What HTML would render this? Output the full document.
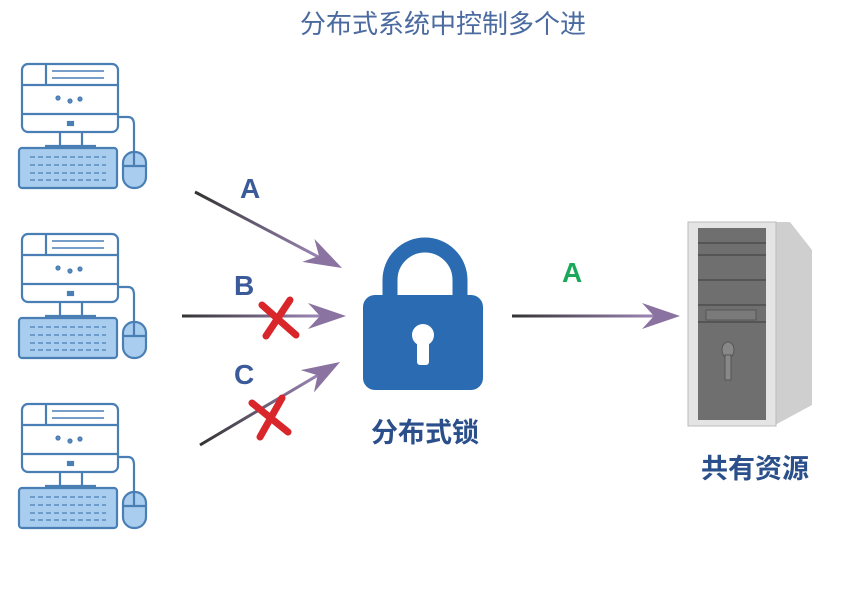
<!DOCTYPE html><html><head><style>body{margin:0;background:#fff}svg{display:block}</style></head><body>
<svg width="866" height="593" viewBox="0 0 866 593" xmlns="http://www.w3.org/2000/svg">
<defs>
<linearGradient id="g1" gradientUnits="userSpaceOnUse" x1="195" y1="192" x2="330" y2="263"><stop offset="0" stop-color="#333"/><stop offset="1" stop-color="#a58cc0"/></linearGradient>
<linearGradient id="g2" gradientUnits="userSpaceOnUse" x1="182" y1="316" x2="330" y2="316"><stop offset="0" stop-color="#333"/><stop offset="1" stop-color="#a58cc0"/></linearGradient>
<linearGradient id="g3" gradientUnits="userSpaceOnUse" x1="200" y1="445" x2="330" y2="368"><stop offset="0" stop-color="#333"/><stop offset="1" stop-color="#a58cc0"/></linearGradient>
<linearGradient id="g4" gradientUnits="userSpaceOnUse" x1="512" y1="316" x2="665" y2="316"><stop offset="0" stop-color="#333"/><stop offset="1" stop-color="#a58cc0"/></linearGradient>
<g id="pc" stroke="#4a7fb5" stroke-width="2.2" fill="none">
<rect x="22" y="64" width="96" height="68" rx="6" fill="#fff"/>
<line x1="22" y1="85" x2="118" y2="85"/><line x1="46" y1="64" x2="46" y2="85"/>
<line x1="22" y1="114" x2="118" y2="114"/>
<line x1="52" y1="71" x2="104" y2="71" stroke-width="1.5"/><line x1="52" y1="78" x2="104" y2="78" stroke-width="1.5"/>
<circle cx="58" cy="98" r="1.5"/><circle cx="70" cy="101" r="1.5"/><circle cx="80" cy="99" r="1.5"/>
<rect x="68" y="122" width="5" height="3" fill="#4a7fb5"/>
<line x1="60" y1="132" x2="60" y2="146"/><line x1="82" y1="132" x2="82" y2="146"/><line x1="45" y1="146" x2="96" y2="146"/>
<rect x="19" y="148" width="98" height="40" rx="3" fill="#a9cdee"/>
<g stroke-width="1.3"><line x1="30" y1="157" x2="106" y2="157" stroke-dasharray="5 3"/><line x1="30" y1="165" x2="106" y2="165" stroke-dasharray="5 3"/><line x1="30" y1="173" x2="106" y2="173" stroke-dasharray="5 3"/><line x1="30" y1="180" x2="106" y2="180" stroke-dasharray="5 3"/></g>
<path d="M118 117 H128 Q134 117 134 125 V140 Q134 146 134 152"/>
<rect x="123" y="152" width="23" height="36" rx="11" fill="#a9cdee"/><line x1="134" y1="152" x2="134" y2="166"/><line x1="123" y1="166" x2="146" y2="166"/>
</g>
<path id="ah" d="M0 0 L-38 -13 L-26 0 L-38 13 Z"/>
</defs>
<text x="443" y="33" text-anchor="middle" font-family="Liberation Sans,Noto Sans CJK SC,sans-serif" font-size="26" fill="#4a6aa0">分布式系统中控制多个进</text>
<use href="#pc"/><use href="#pc" y="170"/><use href="#pc" y="340"/>
<g stroke-width="3">
<line x1="195" y1="192" x2="330" y2="263" stroke="url(#g1)"/>
<line x1="182" y1="316" x2="330" y2="316" stroke="url(#g2)"/>
<line x1="200" y1="445" x2="330" y2="368" stroke="url(#g3)"/>
<line x1="512" y1="316" x2="665" y2="316" stroke="url(#g4)"/>
</g>
<g fill="#8a73a0">
<use href="#ah" transform="translate(342,268) rotate(27.7)"/>
<use href="#ah" transform="translate(346,316)"/>
<use href="#ah" transform="translate(340,362) rotate(-30.6)"/>
<use href="#ah" transform="translate(680,316)"/>
</g>
<g font-family="Liberation Sans,sans-serif" font-weight="bold" font-size="28">
<text x="240" y="198" fill="#3a5a9a">A</text><text x="234" y="295" fill="#3a5a9a">B</text><text x="234" y="384" fill="#3a5a9a">C</text>
<text x="562" y="282" fill="#1aa85a">A</text></g>
<g stroke="#d8262a" stroke-width="7" stroke-linecap="round">
<path d="M262 305 L296 335"/><path d="M290 300 L266 336"/>
<path d="M252 403 L288 432"/><path d="M282 398 L260 437"/></g>
<path d="M390 300 V280 a35 35 0 0 1 70 0 V300" fill="none" stroke="#2a6bb2" stroke-width="15"/>
<rect x="363" y="295" width="120" height="95" rx="12" fill="#2a6bb2"/>
<circle cx="423" cy="335" r="11" fill="#fff"/><rect x="417" y="335" width="12" height="30" rx="3" fill="#fff"/>
<text x="425" y="442" text-anchor="middle" font-family="Liberation Sans,Noto Sans CJK SC,sans-serif" font-weight="bold" font-size="27" fill="#2a4f8a">分布式锁</text>
<polygon points="775,222 790,222 812,250 812,405 775,425" fill="#cfcfcf"/>
<rect x="688" y="222" width="88" height="204" fill="#e4e4e4" stroke="#bbb"/>
<rect x="698" y="228" width="68" height="192" fill="#6f6f6f"/>
<g stroke="#555" stroke-width="2"><line x1="698" y1="243" x2="766" y2="243"/><line x1="698" y1="255" x2="766" y2="255"/><line x1="698" y1="280" x2="766" y2="280"/><line x1="698" y1="305" x2="766" y2="305"/><line x1="698" y1="322" x2="766" y2="322"/></g>
<rect x="706" y="310" width="50" height="10" fill="#7a7a7a" stroke="#555"/>
<ellipse cx="728" cy="350" rx="6" ry="8" fill="#888" stroke="#555"/><rect x="725" y="355" width="6" height="25" fill="#888" stroke="#555"/>
<text x="755" y="478" text-anchor="middle" font-family="Liberation Sans,Noto Sans CJK SC,sans-serif" font-weight="bold" font-size="27" fill="#2a4f8a">共有资源</text>
</svg></body></html>
